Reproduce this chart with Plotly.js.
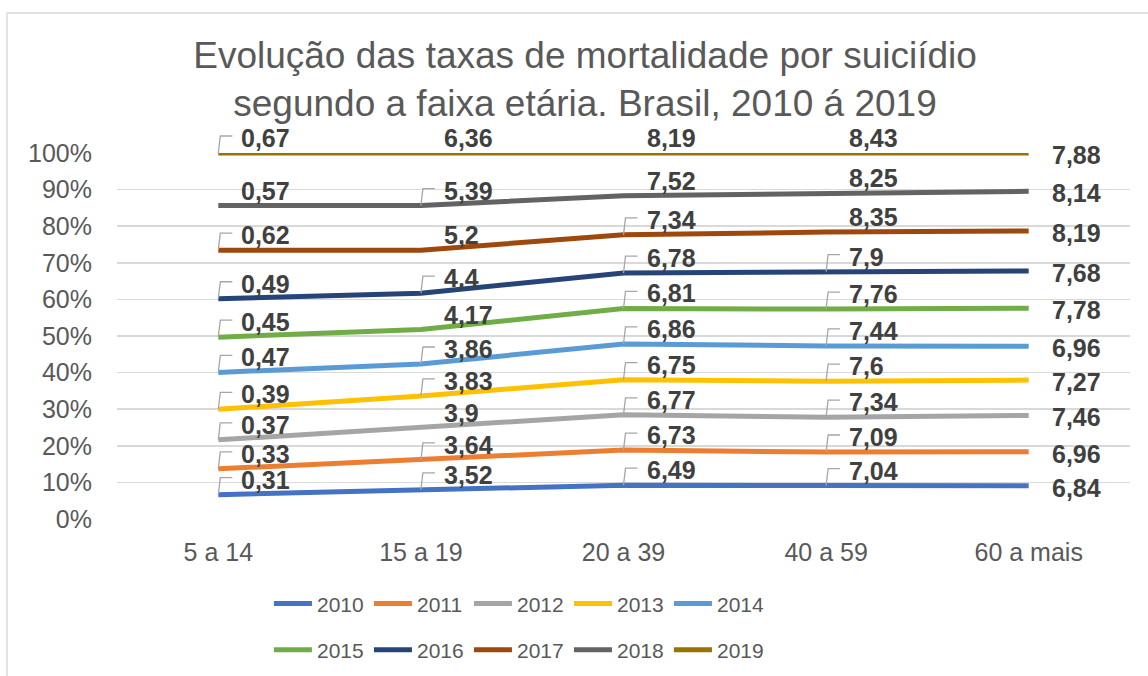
<!DOCTYPE html>
<html>
<head>
<meta charset="utf-8">
<script src="https://cdn.plot.ly/plotly-3.0.1.min.js"></script>
<style>
  html, body { margin: 0; padding: 0; background: #ffffff; }
  #chart { width: 1148px; height: 676px; }
</style>
</head>
<body>
<div id="chart"></div>
<script>
// ---- data ----
const categories = ['5 a 14', '15 a 19', '20 a 39', '40 a 59', '60 a mais'];
const years = ['2010', '2011', '2012', '2013', '2014', '2015', '2016', '2017', '2018', '2019'];
const v2010 = [0.31, 3.52, 6.49, 7.04, 6.84];
const v2011 = [0.33, 3.64, 6.73, 7.09, 6.96];
const v2012 = [0.37, 3.90, 6.77, 7.34, 7.46];
const v2013 = [0.39, 3.83, 6.75, 7.60, 7.27];
const v2014 = [0.47, 3.86, 6.86, 7.44, 6.96];
const v2015 = [0.45, 4.17, 6.81, 7.76, 7.78];
const v2016 = [0.49, 4.40, 6.78, 7.90, 7.68];
const v2017 = [0.62, 5.20, 7.34, 8.35, 8.19];
const v2018 = [0.57, 5.39, 7.52, 8.25, 8.14];
const v2019 = [0.67, 6.36, 8.19, 8.43, 7.88];
const seriesValues = [v2010, v2011, v2012, v2013, v2014, v2015, v2016, v2017, v2018, v2019];
const yTickValues = [0, 10, 20, 30, 40, 50, 60, 70, 80, 90, 100];
const yTickLabels = yTickValues.map(v => v + '%');

// ---- styles ----
const colors = ['#4472C4', '#ED7D31', '#A5A5A5', '#FFC000', '#5B9BD5',
                '#70AD47', '#264478', '#9E480E', '#636363', '#997300'];
// label style per point: 'L' = with leader line, 'C' = without
const labelStyle = [
  ['L','L','L','L'], ['L','L','L','L'], ['L','C','L','L'], ['L','L','L','L'], ['L','L','L','L'],
  ['L','C','L','L'], ['L','L','L','L'], ['L','C','L','C'], ['C','L','C','C'], ['L','C','C','C']
];
const FONT = 'Liberation Sans, Arial, sans-serif';
const fmt = v => String(v).replace('.', ',');

// cumulative percentages (same as the library's groupnorm 'percent') used to anchor labels
const totals = categories.map((c, j) => seriesValues.reduce((s, arr) => s + arr[j], 0));
const cum = [];
seriesValues.forEach((arr, i) => {
  cum.push(arr.map((v, j) => {
    const below = seriesValues.slice(0, i).reduce((s, a) => s + a[j], 0);
    const p = (below + v) / totals[j] * 100;
    return Math.min(100, Math.round(p * 1e6) / 1e6);
  }));
});

const traces = seriesValues.map((arr, i) => ({
  type: 'scatter',
  mode: 'lines',
  name: years[i],
  x: categories,
  y: arr,
  stackgroup: 'one',
  groupnorm: i === 0 ? 'percent' : undefined,
  fill: 'none',
  line: { color: colors[i], width: 5 },
  legend: i < 5 ? 'legend' : 'legend2',
  hoverinfo: 'skip'
}));

const annotations = [];
const shapes = [];
seriesValues.forEach((arr, i) => {
  arr.forEach((v, j) => {
    const last = j === categories.length - 1;
    annotations.push({
      xref: 'x', yref: 'y', x: j, y: cum[i][j],
      text: fmt(v), showarrow: false,
      xanchor: 'left', yanchor: 'middle',
      xshift: 21, yshift: last ? -2 : 15,
      font: { family: FONT, size: 25, color: '#404040', weight: 'bold' }
    });
    if (!last && labelStyle[i][j] === 'L') {
      // leader line: up from the point, then to the right (y range 0..100 maps onto paper 0..1)
      shapes.push({
        type: 'path', xref: 'x', yref: 'paper',
        xsizemode: 'pixel', ysizemode: 'pixel',
        xanchor: j, yanchor: cum[i][j] / 100,
        path: 'M0,0L2,17L14,17',
        line: { color: '#A6A6A6', width: 1.3 }
      });
    }
  });
});

// chart frame
shapes.push({
  type: 'rect', xref: 'paper', yref: 'paper',
  x0: -0.1086, x1: 1.1, y0: -0.6, y1: 1.3825,
  line: { color: '#D9D9D9', width: 1.5 }, layer: 'below'
});

const legendCommon = {
  orientation: 'h', xref: 'paper', yref: 'paper',
  xanchor: 'left', yanchor: 'middle',
  font: { family: FONT, size: 21, color: '#595959' },
  itemwidth: 38, entrywidth: 47, entrywidthmode: 'pixels',
  bgcolor: 'rgba(0,0,0,0)', itemclick: false, itemdoubleclick: false
};

const layout = {
  width: 1148, height: 676,
  margin: { l: 117, r: 18, t: 153, b: 157, autoexpand: false },
  paper_bgcolor: '#ffffff', plot_bgcolor: '#ffffff',
  font: { family: FONT, color: '#595959' },
  title: {
    text: 'Evolução das taxas de mortalidade por suiciídio<br>segundo a faixa etária. Brasil, 2010 á 2019',
    font: { family: FONT, size: 37, color: '#595959' },
    xref: 'container', x: 0.5096, xanchor: 'center',
    yref: 'container', y: 0.899, yanchor: 'middle'
  },
  xaxis: {
    type: 'category', categoryorder: 'array', categoryarray: categories,
    range: [-0.5, 4.5], showgrid: false, zeroline: false, showline: false,
    ticks: '', tickfont: { family: FONT, size: 25, color: '#595959' },
    ticklabelstandoff: 16, fixedrange: true
  },
  yaxis: {
    range: [0, 100], tickmode: 'array', tickvals: yTickValues, ticktext: yTickLabels,
    showgrid: true, gridcolor: '#D9D9D9', gridwidth: 1.5,
    zeroline: false, showline: false, ticks: '',
    tickfont: { family: FONT, size: 25, color: '#595959' },
    ticklabelstandoff: 24, fixedrange: true
  },
  showlegend: true,
  legend: Object.assign({}, legendCommon, { x: 0.150, y: -0.232 }),
  legend2: Object.assign({}, legendCommon, { x: 0.150, y: -0.358 }),
  annotations: annotations,
  shapes: shapes
};

Plotly.newPlot('chart', traces, layout, { displayModeBar: false, staticPlot: true });
</script>
</body>
</html>
